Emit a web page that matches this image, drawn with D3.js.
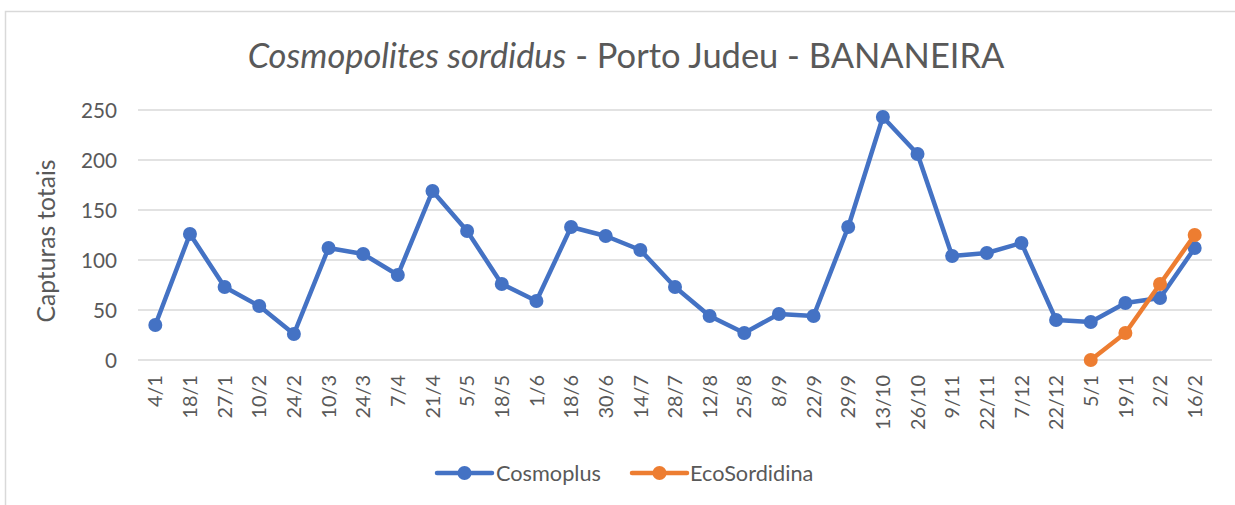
<!DOCTYPE html>
<html>
<head>
<meta charset="utf-8">
<script src="https://cdn.jsdelivr.net/npm/d3@7"></script>
<style>
  html, body { margin: 0; padding: 0; background: #fff; }
  svg { display: block; font-family: Lato, "Open Sans", sans-serif; }
  svg text { font-family: Lato, "Open Sans", sans-serif; }
</style>
</head>
<body>
<svg id="chart" width="1235" height="505"></svg>
<script>
const categories = ["4/1","18/1","27/1","10/2","24/2","10/3","24/3","7/4","21/4","5/5","18/5","1/6","18/6","30/6","14/7","28/7","12/8","25/8","8/9","22/9","29/9","13/10","26/10","9/11","22/11","7/12","22/12","5/1","19/1","2/2","16/2"];
const cosmoplus = [35,126,73,54,26,112,106,85,169,129,76,59,133,124,110,73,44,27,46,44,133,243,206,104,107,117,40,38,57,62,112];
const ecoSordidina = [null,null,null,null,null,null,null,null,null,null,null,null,null,null,null,null,null,null,null,null,null,null,null,null,null,null,null,0,27,76,125];
const yTicks = [0,50,100,150,200,250];
const seriesNames = ["Cosmoplus","EcoSordidina"];
const seriesColors = ["#4472C4","#ED7D31"];

const svg = d3.select("#chart");
const textColor = "#595959";

// helper: size a font so that a sample string has a target length
function fitSize(sample, target, style) {
  const t = svg.append("text").style("font-size","20px").style("font-style",style||"normal").text(sample);
  const w = t.node().getComputedTextLength();
  t.remove();
  return 20 * target / w;
}

// chart border
svg.append("rect").attr("x",5.5).attr("y",11.5).attr("width",1300).attr("height",600)
  .attr("fill","#fff").attr("stroke","#d9d9d9").attr("stroke-width",1.5);

const plot = {left: 138, right: 1212, top: 110, bottom: 360};

const x = d3.scaleBand().domain(categories).range([plot.left, plot.right]);
const y = d3.scaleLinear().domain([0,250]).range([plot.bottom, plot.top]);
const cx = d => x(d) + x.bandwidth()/2;

// gridlines
svg.append("g").selectAll("line").data(yTicks).join("line")
  .attr("x1",plot.left).attr("x2",plot.right)
  .attr("y1",d=>y(d)).attr("y2",d=>y(d))
  .attr("stroke","#d9d9d9").attr("stroke-width",1.3);

// y axis
const ySize = fitSize("250", 36);
const yAxis = d3.axisLeft(y).tickValues(yTicks).tickSize(0).tickPadding(0);
const gy = svg.append("g").attr("transform",`translate(${117},0)`).call(yAxis);
gy.attr("font-family",null).attr("font-size",null);
gy.select(".domain").remove();
gy.selectAll("text").attr("fill",textColor).style("font-size",ySize+"px").attr("dy","0.36em");

// x axis
const xSize = fitSize("13/10", 55);
const xAxis = d3.axisBottom(x).tickSize(0).tickPadding(0);
const gx = svg.append("g").attr("transform",`translate(0,${plot.bottom})`).call(xAxis);
gx.attr("font-family",null).attr("font-size",null);
gx.select(".domain").remove();
gx.selectAll("text")
  .attr("fill",textColor).style("font-size",xSize+"px")
  .attr("text-anchor","end")
  .attr("transform","rotate(-90)")
  .attr("x",-15).attr("y",0).attr("dy","0.36em");

// y title
const ytSize = fitSize("Capturas totais", 163);
svg.append("text").attr("transform",`translate(55,241) rotate(-90)`)
  .attr("text-anchor","middle").attr("fill",textColor).style("font-size",ytSize+"px")
  .text("Capturas totais");

// title
const title = svg.append("text").attr("x",626).attr("y",68).attr("text-anchor","middle")
  .attr("fill",textColor).style("font-size","31px");
title.append("tspan").style("font-style","italic").text("Cosmopolites sordidus");
title.append("tspan").text(" - Porto Judeu - BANANEIRA");
const tw = title.node().getComputedTextLength();
title.style("font-size", (31*757/tw).toFixed(2)+"px");

// series
const allSeries = [cosmoplus, ecoSordidina];
allSeries.forEach((vals,i) => {
  const pts = categories.map((c,j)=>({c, v: vals[j]}));
  const line = d3.line().defined(d=>d.v!=null).x(d=>cx(d.c)).y(d=>y(d.v));
  svg.append("path").datum(pts).attr("d",line).attr("fill","none")
    .attr("stroke",seriesColors[i]).attr("stroke-width",4.5).attr("stroke-linejoin","round").attr("stroke-linecap","round");
  svg.append("g").selectAll("circle").data(pts.filter(d=>d.v!=null)).join("circle")
    .attr("cx",d=>cx(d.c)).attr("cy",d=>y(d.v)).attr("r",7).attr("fill",seriesColors[i]);
});

// legend
const lgSize = fitSize("Cosmoplus", 105);
const legendPos = [{lx:437, tx:496},{lx:632, tx:690}];
seriesNames.forEach((n,i)=>{
  const g = svg.append("g");
  const p = legendPos[i];
  g.append("line").attr("x1",p.lx).attr("x2",p.lx+55).attr("y1",473).attr("y2",473)
    .attr("stroke",seriesColors[i]).attr("stroke-width",4.5).attr("stroke-linecap","round");
  g.append("circle").attr("cx",p.lx+27.5).attr("cy",473).attr("r",7).attr("fill",seriesColors[i]);
  g.append("text").attr("x",p.tx).attr("y",473).attr("dy","0.36em").attr("fill",textColor)
    .style("font-size",lgSize+"px").text(n);
});
</script>
</body>
</html>
